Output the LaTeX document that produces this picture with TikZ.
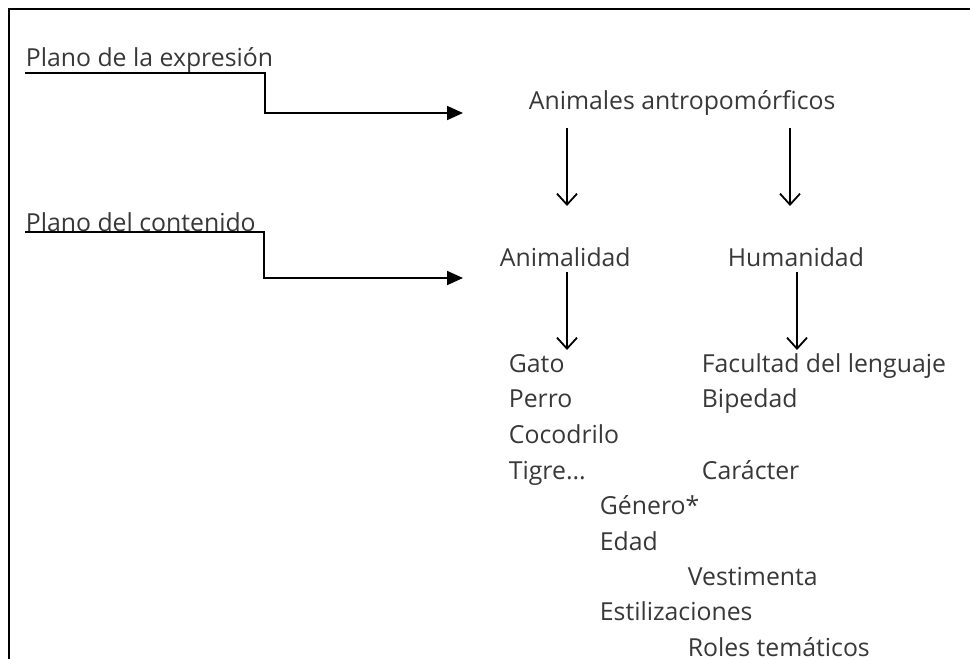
\documentclass[tikz,border=0pt]{standalone}
\usepackage{fontspec}
\setmainfont{Open Sans}
\usetikzlibrary{arrows.meta}

\begin{document}
\begin{tikzpicture}[x=1pt,y=-1pt,line width=1.8pt,
  lbl/.style={anchor=base west,inner sep=0pt,text=black!78,font=\fontsize{24.8}{29}\selectfont},
  elbow/.style={-{Triangle[length=16pt,width=14pt]}},
  downarr/.style={-{Straight Barb[length=11pt,width=20pt]}}]
\useasboundingbox (0,0) rectangle (970,659);
% frame
\draw[line width=1.3pt] (9,659) -- (9,9) -- (970,9);
% labels
\node[lbl] (pexp) at (25,66) {Plano de la expresión};
\node[lbl] (pcont) at (25,231) {Plano del contenido};
\node[lbl] (anim) at (528,109) {Animales antropomórficos};
\node[lbl] (animal) at (499,266) {Animalidad};
\node[lbl] (human) at (727,266) {Humanidad};
\node[lbl] (gato) at (508,372) {Gato};
\node[lbl] (perro) at (508,407) {Perro};
\node[lbl] (coco) at (508,443) {Cocodrilo};
\node[lbl] (tigre) at (508,479) {Tigre...};
\node[lbl] (facul) at (701,372) {Facultad del lenguaje};
\node[lbl] (biped) at (701,407) {Bipedad};
\node[lbl] (carac) at (701,479) {Carácter};
\node[lbl] (gener) at (599,514) {Género*};
\node[lbl] (edad) at (599,550) {Edad};
\node[lbl] (vesti) at (687,585) {Vestimenta};
\node[lbl] (estil) at (599,620) {Estilizaciones};
\node[lbl] (roles) at (687,656) {Roles temáticos};
% bends and tips
\coordinate (bendE) at (265,113);
\coordinate (tipE) at (463,113);
\coordinate (bendC) at (264,278);
\coordinate (tipC) at (463,278);
\coordinate (aniL) at (567,128);
\coordinate (aniR) at (790,128);
\coordinate (tipL) at (567,206);
\coordinate (tipR) at (790,206);
\coordinate (animS) at (567,272);
\coordinate (humS) at (797,272);
\coordinate (gatoN) at (567,350);
\coordinate (faculN) at (797,350);
% connectors
\draw[elbow] (pexp.south west) -| (bendE) -- (tipE);
\draw[elbow] (pcont.south west) -| (bendC) -- (tipC);
\draw[downarr] (aniL) -- (tipL);
\draw[downarr] (aniR) -- (tipR);
\draw[downarr] (animS) -- (gatoN);
\draw[downarr] (humS) -- (faculN);
\end{tikzpicture}
\end{document}
